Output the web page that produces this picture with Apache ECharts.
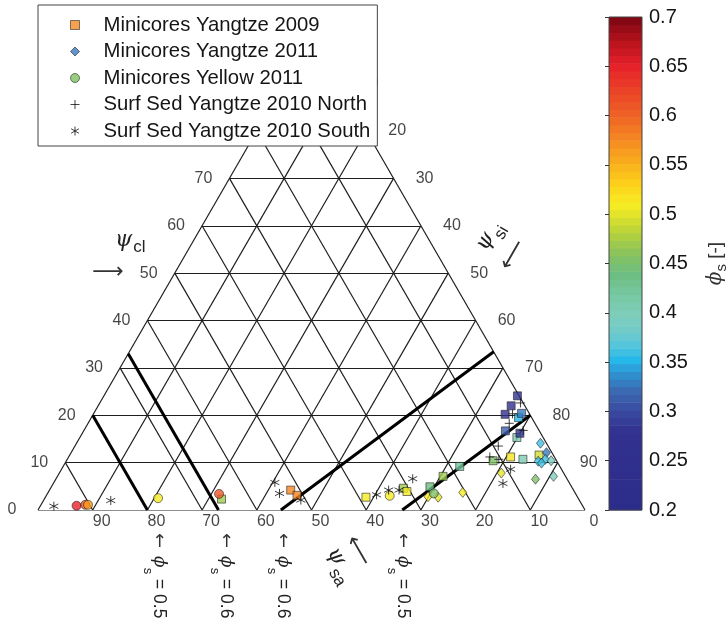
<!DOCTYPE html>
<html>
<head>
<meta charset="utf-8">
<title>Sediment composition ternary diagram</title>
<script src="https://cdn.jsdelivr.net/npm/echarts@6/dist/echarts.min.js"></script>
<style>
  html, body { margin: 0; padding: 0; background: #ffffff; }
  #chart { width: 726px; height: 628px; }
</style>
</head>
<body>
<div id="chart"></div>
<script>
// Minicore samples: [sand %, silt %, clay %, phi_s]
const minicoresYangtze2009 = [
  [65.3, 32.4, 2.3, 0.47], [51.7, 44.1, 4.2, 0.58], [51.1, 45.8, 3.1, 0.58],
  [38.7, 58.6, 2.7, 0.51], [30.9, 64.5, 4.6, 0.47], [30.6, 65.5, 3.9, 0.51],
  [25.9, 69.2, 4.9, 0.44], [22.4, 70.5, 7.1, 0.47], [18.3, 72.5, 9.2, 0.42],
  [11.6, 78.0, 10.4, 0.45], [8.0, 80.8, 11.2, 0.52], [6.0, 83.3, 10.7, 0.41],
  [4.8, 79.9, 15.3, 0.41], [6.2, 77.1, 16.7, 0.31], [3.8, 80.0, 16.2, 0.28],
  [2.4, 78.1, 19.5, 0.35], [1.4, 78.2, 20.4, 0.33], [4.5, 75.3, 20.2, 0.27],
  [2.5, 75.5, 22.0, 0.27], [0.3, 75.6, 24.1, 0.27], [2.6, 85.8, 11.6, 0.49]
];
const minicoresYangtze2011 = [
  [27.3, 69.9, 2.8, 0.51], [25.5, 71.8, 2.7, 0.50], [20.5, 75.8, 3.7, 0.51],
  [11.4, 80.8, 7.8, 0.50], [5.8, 87.7, 6.5, 0.45], [2.2, 90.7, 7.1, 0.40],
  [1.1, 84.8, 14.1, 0.36], [1.0, 86.9, 12.1, 0.33], [3.4, 86.3, 10.3, 0.36],
  [1.9, 87.4, 10.7, 0.36], [1.0, 88.6, 10.4, 0.39], [3.0, 87.1, 9.9, 0.36]
];
const minicoresYellow2011 = [
  [92.5, 6.6, 0.9, 0.65], [90.8, 8.1, 1.1, 0.62], [90.3, 8.6, 1.1, 0.56],
  [76.8, 20.7, 2.5, 0.51], [65.2, 31.4, 3.4, 0.61], [34.2, 62.8, 3.0, 0.51],
  [25.9, 70.6, 3.5, 0.45]
];
// Surface sediments: [sand %, silt %, clay %]
const surfSedNorth = [
  [0.5, 76.9, 22.6], [3.1, 76.6, 20.3], [4.7, 77.0, 18.3], [2.9, 80.3, 16.8],
  [9.1, 77.4, 13.5], [11.8, 77.0, 11.2], [10.4, 78.9, 10.7]
];
const surfSedSouth = [
  [96.7, 2.5, 0.8], [85.7, 12.3, 2.0], [53.8, 40.4, 5.8], [54.1, 42.4, 3.5],
  [50.9, 47.0, 2.1], [36.5, 60.3, 3.2], [33.8, 62.0, 4.2], [31.9, 63.9, 4.2],
  [28.2, 65.2, 6.6], [9.3, 82.1, 8.6], [12.2, 82.2, 5.6]
];

// phi_s iso-lines: value and end compositions [sand, silt, clay]
const contourPhi = [0.5, 0.6, 0.6, 0.5];
const contourFrom = [[80, 0, 20], [67, 0, 33], [55.6, 44.4, 0], [33.4, 66.6, 0]];
const contourTo = [[80, 20, 0], [67, 33, 0], [0, 66.6, 33.4], [0, 80, 20]];

// Tick values along each side of the triangle
const clayTicks = [0, 10, 20, 30, 40, 50, 60, 70, 80, 90];
const siltTicks = [0, 10, 20, 30, 40, 50, 60, 70, 80, 90];
const sandTicks = [0, 10, 20, 30, 40, 50, 60, 70, 80, 90];
const gridSteps = [10, 20, 30, 40, 50, 60, 70, 80, 90];

// Colour scale for phi_s
const phiMin = 0.2;
const phiMax = 0.7;
const phiTickStep = 0.05;
const colorLevels = 64;
const cmapStops = [
  [0.200, '#2c2c8a'], [0.280, '#32318f'], [0.300, '#394a9f'], [0.320, '#3c68b0'],
  [0.340, '#2f95d3'], [0.352, '#26b8ea'], [0.365, '#4ec4df'], [0.380, '#70cbcc'],
  [0.400, '#7fcdb8'], [0.420, '#76c7a0'], [0.440, '#6cbd80'], [0.460, '#88c35e'],
  [0.480, '#b4d13c'], [0.500, '#e2e42b'], [0.510, '#f6ec22'], [0.530, '#fdd21b'],
  [0.550, '#fab21d'], [0.575, '#f58a22'], [0.600, '#ef6326'], [0.625, '#eb4428'],
  [0.650, '#e6222a'], [0.670, '#c3151f'], [0.700, '#7a0612']
];

const seriesNames = [
  'Minicores Yangtze 2009',
  'Minicores Yangtze 2011',
  'Minicores Yellow 2011',
  'Surf Sed Yangtze 2010 North',
  'Surf Sed Yangtze 2010 South'
];

// ---------- helpers ----------
const H = Math.sqrt(3) / 2;
// ternary composition -> cartesian data coordinates (sand left, silt right, clay top)
function tern(sand, silt, clay) { return [silt + clay / 2, clay * H]; }

function hexToRgb(h) {
  return [parseInt(h.slice(1, 3), 16), parseInt(h.slice(3, 5), 16), parseInt(h.slice(5, 7), 16)];
}
function colormap(v) {
  const s = cmapStops;
  if (v <= s[0][0]) return s[0][1];
  for (let i = 1; i < s.length; i++) {
    if (v <= s[i][0]) {
      const t = (v - s[i - 1][0]) / (s[i][0] - s[i - 1][0]);
      const a = hexToRgb(s[i - 1][1]), b = hexToRgb(s[i][1]);
      return 'rgb(' + a.map((x, j) => Math.round(x + (b[j] - x) * t)).join(',') + ')';
    }
  }
  return s[s.length - 1][1];
}
const bandStep = (phiMax - phiMin) / colorLevels;
function phiColor(v) {
  let k = Math.floor((v - phiMin) / bandStep);
  k = Math.max(0, Math.min(colorLevels - 1, k));
  return colormap(phiMin + (k + 0.5) * bandStep);
}

// grid lines of the ternary diagram
const gridSegments = [];
gridSteps.forEach(k => {
  gridSegments.push({ coords: [tern(100 - k, 0, k), tern(0, 100 - k, k)] });   // constant clay
  gridSegments.push({ coords: [tern(100 - k, k, 0), tern(0, k, 100 - k)] });   // constant silt
  gridSegments.push({ coords: [tern(k, 100 - k, 0), tern(k, 0, 100 - k)] });   // constant sand
});
gridSegments.push({ coords: [tern(100, 0, 0), tern(0, 100, 0)] });
gridSegments.push({ coords: [tern(100, 0, 0), tern(0, 0, 100)] });
gridSegments.push({ coords: [tern(0, 100, 0), tern(0, 0, 100)] });

const contourSegments = contourPhi.map((v, i) => ({
  coords: [tern(...contourFrom[i]), tern(...contourTo[i])]
}));

const clayLabelData = clayTicks.map(c => [...tern(100 - c, 0, c), c]);
const siltLabelData = siltTicks.map(s => [...tern(0, s, 100 - s), s]);
const sandLabelData = sandTicks.map(s => [...tern(s, 100 - s, 0), s]);

const withPhi = arr => arr.map(d => [...tern(d[0], d[1], d[2]), d[3]]);
const plain = arr => arr.map(d => tern(d[0], d[1], d[2]));

const bands = [];
for (let i = 0; i < colorLevels; i++) bands.push([0, phiMin + i * bandStep]);

const PLUS = 'path://M5,0L5,10M0,5L10,5';
const STAR = 'path://M5,0L5,10M0.67,2.5L9.33,7.5M0.67,7.5L9.33,2.5';

const FONT = 'Liberation Sans, Arial, sans-serif';
const SERIF = 'DejaVu Serif, serif';
const INK = '#151515';
const tickLabel = (offset) => ({
  show: true, position: 'inside', offset: offset,
  formatter: p => String(p.data[2]),
  fontFamily: FONT, fontSize: 16, color: INK
});
const labelSeries = (data, offset) => ({
  type: 'scatter', data: data, symbol: 'circle', symbolSize: 1,
  itemStyle: { color: 'rgba(0,0,0,0)' }, silent: true,
  label: tickLabel(offset), z: 3
});
const colorBy = p => phiColor(p.data[2]);
const markerBorder = { borderColor: '#1a1a1a', borderWidth: 0.7 };

const chart = echarts.init(document.getElementById('chart'), null, { renderer: 'canvas' });

const option = {
  animation: false,
  backgroundColor: '#ffffff',
  grid: [
    { left: 38, top: 36.3, width: 547, height: 473.7, show: false, outerBoundsMode: 'none' },
    { left: 609, top: 17, width: 33, height: 493, show: true, z: 5, outerBoundsMode: 'none',
      backgroundColor: 'transparent', borderColor: '#444', borderWidth: 1 }
  ],
  xAxis: [
    { gridIndex: 0, type: 'value', min: 0, max: 100, show: false },
    { gridIndex: 1, type: 'value', min: 0, max: 1, show: false }
  ],
  yAxis: [
    { gridIndex: 0, type: 'value', min: 0, max: 100 * H, show: false },
    { gridIndex: 1, type: 'value', min: phiMin, max: phiMax, interval: phiTickStep,
      position: 'right', z: 6,
      axisLine: { show: false },
      axisTick: { show: true, inside: true, length: 4, lineStyle: { color: '#333', width: 1 } },
      splitLine: { show: false },
      axisLabel: { fontFamily: FONT, fontSize: 20, color: INK, margin: 7 },
      name: '{ph|ϕ}{sb|s}{br| [-]}',
      nameLocation: 'middle', nameRotate: 90, nameGap: 60,
      nameTextStyle: {
        rich: {
          ph: { fontFamily: SERIF, fontStyle: 'italic', fontSize: 20, color: '#333' },
          sb: { fontFamily: FONT, fontSize: 15, color: '#333', padding: [12, 0, 0, 0] },
          br: { fontFamily: FONT, fontSize: 19, color: '#333' }
        }
      }
    }
  ],
  legend: {
    orient: 'vertical', left: 38, top: 5,
    itemWidth: 9, itemHeight: 9, itemGap: 6.5,
    padding: [10, 7, 5, 30],
    backgroundColor: '#ffffff', borderColor: '#444', borderWidth: 1,
    selectedMode: false, z: 10,
    textStyle: { fontFamily: FONT, fontSize: 20.3, color: INK, padding: [0, 0, 0, 19] },
    data: [
      { name: seriesNames[0], icon: 'rect', itemStyle: { color: '#f28a22', borderColor: '#1a1a1a', borderWidth: 0.7 } },
      { name: seriesNames[1], icon: 'diamond', itemStyle: { color: '#3b78c3', borderColor: '#1a1a1a', borderWidth: 0.7 } },
      { name: seriesNames[2], icon: 'circle', itemStyle: { color: '#7dc35f', borderColor: '#1a1a1a', borderWidth: 0.7 } },
      { name: seriesNames[3], icon: PLUS, itemStyle: { color: 'none', borderColor: '#111', borderWidth: 1 } },
      { name: seriesNames[4], icon: STAR, itemStyle: { color: 'none', borderColor: '#111', borderWidth: 1 } }
    ]
  },
  series: [
    { type: 'lines', coordinateSystem: 'cartesian2d', xAxisIndex: 0, yAxisIndex: 0,
      silent: true, data: gridSegments, z: 1,
      lineStyle: { color: '#1e1e1e', width: 1.2, opacity: 1 } },
    { type: 'lines', coordinateSystem: 'cartesian2d', xAxisIndex: 0, yAxisIndex: 0,
      silent: true, data: contourSegments, z: 2,
      lineStyle: { color: '#000', width: 3, opacity: 1 } },
    labelSeries(clayLabelData, [-26, 0]),
    labelSeries(siltLabelData, [31, 0]),
    labelSeries(sandLabelData, [9, 12]),
    { name: seriesNames[0], type: 'scatter', data: withPhi(minicoresYangtze2009),
      symbol: 'rect', symbolSize: 8, z: 4,
      itemStyle: Object.assign({ color: colorBy }, markerBorder) },
    { name: seriesNames[1], type: 'scatter', data: withPhi(minicoresYangtze2011),
      symbol: 'diamond', symbolSize: [8, 10], z: 4,
      itemStyle: Object.assign({ color: colorBy }, markerBorder) },
    { name: seriesNames[2], type: 'scatter', data: withPhi(minicoresYellow2011),
      symbol: 'circle', symbolSize: 9, z: 4,
      itemStyle: Object.assign({ color: colorBy }, markerBorder) },
    { name: seriesNames[3], type: 'scatter', data: plain(surfSedNorth),
      symbol: PLUS, symbolSize: 9, z: 4,
      itemStyle: { color: 'none', borderColor: '#111', borderWidth: 1 } },
    { name: seriesNames[4], type: 'scatter', data: plain(surfSedSouth),
      symbol: STAR, symbolSize: 9, z: 4,
      itemStyle: { color: 'none', borderColor: '#111', borderWidth: 1 } },
    { type: 'custom', xAxisIndex: 1, yAxisIndex: 1, silent: true, data: bands, z: 2,
      renderItem: (params, api) => {
        const v0 = api.value(1);
        const a = api.coord([0, v0]);
        const b = api.coord([1, v0 + bandStep]);
        return {
          type: 'rect',
          shape: { x: a[0], y: b[1], width: b[0] - a[0], height: a[1] - b[1] + 0.6 },
          style: { fill: phiColor(v0 + bandStep / 2) }
        };
      } }
  ]
};

// axis names, arrows and phi_s iso-line captions
const psiRich = (drop) => ({
  p: { fontFamily: SERIF, fontStyle: 'italic', fontSize: 22, fill: '#222' },
  s: { fontFamily: FONT, fontSize: 17, fill: '#222', padding: [drop, 0, 0, 1] }
});
const arrowStyle = (txt, size) => ({
  text: txt, fontFamily: 'DejaVu Sans, sans-serif', fontSize: size, fill: '#333',
  align: 'center', verticalAlign: 'middle'
});
const contourLabelX = [159, 226, 283, 403];
const graphics = [
  { type: 'text', x: 115, y: 240, z: 20,
    style: { text: '{p|ψ}{s|cl}', rich: psiRich(14), align: 'left', verticalAlign: 'middle' } },
  { type: 'text', x: 108, y: 272, z: 20, style: arrowStyle('⟶', 22) },
  { type: 'text', x: 481, y: 249, z: 20, rotation: Math.PI / 3,
    style: { text: '{p|ψ}{s|si}', rich: psiRich(20), align: 'left', verticalAlign: 'middle' } },
  { type: 'text', x: 513, y: 255, z: 20, rotation: Math.PI / 3, style: arrowStyle('⟵', 22) },
  { type: 'text', x: 332, y: 549, z: 20, rotation: -Math.PI / 3,
    style: { text: '{p|ψ}{s|sa}', rich: psiRich(20), align: 'left', verticalAlign: 'middle' } },
  { type: 'text', x: 358, y: 551, z: 20, rotation: -Math.PI / 3, style: arrowStyle('⟵', 22) }
];
contourPhi.forEach((v, i) => {
  graphics.push({
    type: 'text', x: contourLabelX[i], y: 533, z: 20, rotation: -Math.PI / 2,
    style: {
      text: '{ar|←}{ph|ϕ}{sb|s}{eq| = ' + v + '}',
      align: 'left', verticalAlign: 'middle',
      rich: {
        ar: { fontFamily: 'DejaVu Sans, sans-serif', fontSize: 18, fill: '#333', padding: [0, 8, 0, 0] },
        ph: { fontFamily: SERIF, fontStyle: 'italic', fontSize: 17, fill: '#222' },
        sb: { fontFamily: FONT, fontSize: 13, fill: '#222', padding: [22, 0, 0, 0] },
        eq: { fontFamily: FONT, fontSize: 17.5, fill: '#222' }
      }
    }
  });
});
option.graphic = graphics;

chart.setOption(option);
</script>
</body>
</html>
